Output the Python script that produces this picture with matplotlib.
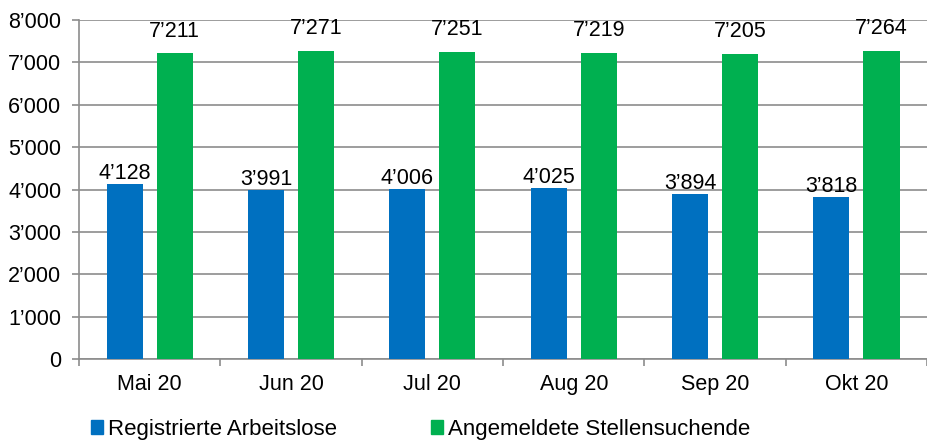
import matplotlib
matplotlib.use("Agg")
import matplotlib.pyplot as plt
import numpy as np
from matplotlib.ticker import FuncFormatter, FixedLocator
from matplotlib.patches import Patch

plt.rcParams['font.family'] = ['Liberation Sans', 'DejaVu Sans']

categories = ["Mai 20", "Jun 20", "Jul 20", "Aug 20", "Sep 20", "Okt 20"]
arbeitslose = [4128, 3991, 4006, 4025, 3894, 3818]
stellensuchende = [7211, 7271, 7251, 7219, 7205, 7264]
series_names = ["Registrierte Arbeitslose", "Angemeldete Stellensuchende"]

blue = "#0070C0"
green = "#00B050"
grid_c = "#8c8c8c"
fs = 15.5

def fmt(v):
    return f"{int(v):,}".replace(",", "\u2019")

fig = plt.figure(figsize=(9.28, 4.4), dpi=100)
ax = fig.add_axes([0.0851, 0.184, 0.914, 0.7705])

x = np.arange(len(categories))
w = 0.255
off = 0.177
b1 = ax.bar(x - off, arbeitslose, w, color=blue, zorder=3)
b2 = ax.bar(x + off, stellensuchende, w, color=green, zorder=3)

for rect, v in zip(b1, arbeitslose):
    ax.annotate(fmt(v), (rect.get_x() + rect.get_width() / 2, v),
                xytext=(0, 0), textcoords="offset points", ha="center", va="bottom",
                fontsize=fs)
for rect, v in zip(b2, stellensuchende):
    ax.annotate(fmt(v), (rect.get_x() + rect.get_width() / 2, v),
                xytext=(0, 8.5), textcoords="offset points", ha="center", va="bottom",
                fontsize=fs)

ax.set_xlim(-0.5, len(categories) - 0.5)
ax.set_ylim(0, 8000)
ax.set_yticks(np.arange(0, 8001, 1000))
ax.yaxis.set_major_formatter(FuncFormatter(lambda v, p: fmt(v)))
ax.set_xticks(x)
ax.set_xticklabels(categories)
ax.xaxis.set_minor_locator(FixedLocator(np.arange(-0.5, len(categories), 1.0)))
ax.tick_params(axis='x', which='major', length=0, labelsize=fs, pad=11)
ax.tick_params(axis='x', which='minor', length=4.7, width=1.2, color=grid_c)
ax.tick_params(axis='y', length=4.7, width=1.2, color=grid_c, labelsize=fs, pad=8)

ax.grid(axis='y', color=grid_c, linewidth=1.2, zorder=0)
for s in ['top', 'right']:
    ax.spines[s].set_visible(False)
for s in ['left', 'bottom']:
    ax.spines[s].set_color(grid_c)
    ax.spines[s].set_linewidth(1.2)

handles = [Patch(color=blue), Patch(color=green)]
fig.legend(handles, series_names, loc='lower left', bbox_to_anchor=(0.0884, -0.02),
           ncol=2, frameon=False, fontsize=16, handlelength=0.55, handleheight=0.55,
           handletextpad=0.23, columnspacing=4.2, borderaxespad=0)

fig.savefig("out.png", dpi=100)
